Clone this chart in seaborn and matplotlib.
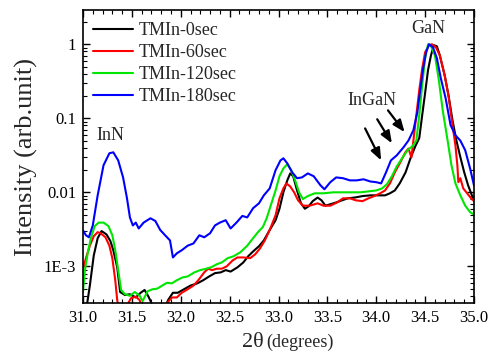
import numpy as np
import pandas as pd
import matplotlib
matplotlib.use("Agg")
import matplotlib.pyplot as plt
import matplotlib.ticker as mticker
import seaborn as sns

# ---------------- data ----------------
labels = ["TMIn-0sec", "TMIn-60sec", "TMIn-120sec", "TMIn-180sec"]
colors = ["#000000", "#ff0000", "#00e600", "#0000ff"]

x_0sec = [31.02, 31.07, 31.11, 31.15, 31.19, 31.24, 31.28, 31.31, 31.35, 31.38, 31.43, 31.48,
          31.54, 31.59, 31.63, 31.67, 31.71, 31.77, 31.83, 31.87, 31.92, 31.97, 32.02, 32.10,
          32.17, 32.23, 32.29, 32.35, 32.41, 32.46, 32.51, 32.58, 32.64, 32.69, 32.74, 32.80,
          32.85, 32.91, 32.97, 33.01, 33.05, 33.09, 33.12, 33.15, 33.19, 33.23, 33.27, 33.31,
          33.35, 33.40, 33.44, 33.48, 33.53, 33.59, 33.65, 33.71, 33.78, 33.86, 33.94, 34.02,
          34.09, 34.14, 34.19, 34.24, 34.30, 34.35, 34.40, 34.44, 34.47, 34.50, 34.53, 34.56,
          34.59, 34.62, 34.65, 34.70, 34.74, 34.78, 34.82, 34.86, 34.90, 34.94, 34.99]
y_0sec = [0.0002, 0.00055, 0.0014, 0.0024, 0.0030, 0.0027, 0.0022, 0.00165, 0.00097, 0.00045,
          0.00041, 0.00042, 0.00038, 0.00044, 0.00048, 0.00039, 0.0003, 0.00022, 0.00026, 0.00035,
          0.00044, 0.00044, 0.00048, 0.00055, 0.00059, 0.00065, 0.00073, 0.00081, 0.00083, 0.00089,
          0.00085, 0.00097, 0.00113, 0.00137, 0.00159, 0.00187, 0.00224, 0.0031, 0.0042, 0.0060,
          0.0100, 0.0145, 0.0180, 0.0165, 0.0106, 0.0071, 0.0060, 0.0065, 0.0076, 0.0085,
          0.0078, 0.0066, 0.0069, 0.0073, 0.0078, 0.0083, 0.0085, 0.0089, 0.0091, 0.0091,
          0.0091, 0.0097, 0.0106, 0.0132, 0.0186, 0.0288, 0.042, 0.054, 0.11, 0.22, 0.45, 0.71,
          0.97, 0.94, 0.71, 0.38, 0.20, 0.094, 0.050, 0.030, 0.0186, 0.0124, 0.0083]

x_60sec = [31.00, 31.03, 31.07, 31.11, 31.15, 31.18, 31.23, 31.27, 31.30, 31.33, 31.35, 31.38,
           31.44, 31.49, 31.54, 31.58, 31.62, 31.81, 31.86, 31.91, 31.96, 32.01, 32.06, 32.13,
           32.18, 32.24, 32.28, 32.32, 32.37, 32.42, 32.47, 32.53, 32.58, 32.64, 32.71, 32.76,
           32.81, 32.86, 32.91, 32.97, 33.01, 33.05, 33.08, 33.12, 33.16, 33.20, 33.25, 33.32,
           33.40, 33.46, 33.53, 33.60, 33.66, 33.73, 33.79, 33.86, 33.92, 33.98, 34.04, 34.09,
           34.14, 34.19, 34.24, 34.30, 34.33, 34.36, 34.38, 34.41, 34.44, 34.47, 34.50, 34.54,
           34.57, 34.61, 34.65, 34.70, 34.74, 34.78, 34.81, 34.83, 34.84, 34.86, 34.89, 34.93,
           34.97, 35.00]
y_60sec = [0.00093, 0.00129, 0.0019, 0.00255, 0.0029, 0.0028, 0.00247, 0.0019, 0.00129, 0.00065,
           0.00035, 0.00022, 0.00028, 0.00037, 0.00039, 0.00035, 0.00022, 0.0002, 0.00032, 0.00038,
           0.00038, 0.00044, 0.00048, 0.00055, 0.00065, 0.00083, 0.00093, 0.00089, 0.00093, 0.00093,
           0.0010, 0.0012, 0.00132, 0.00132, 0.00129, 0.00145, 0.00174, 0.00224, 0.0031, 0.0049,
           0.0083, 0.0113, 0.0132, 0.0120, 0.0100, 0.0078, 0.0066, 0.0066, 0.0071, 0.0066,
           0.0066, 0.0073, 0.0083, 0.0083, 0.0078, 0.0076, 0.0083, 0.0089, 0.0097, 0.0106,
           0.0132, 0.0186, 0.0246, 0.035, 0.039, 0.0296, 0.050, 0.11, 0.24, 0.47, 0.78, 0.97,
           1.0, 0.91, 0.71, 0.38, 0.20, 0.081, 0.043, 0.023, 0.0137, 0.0155, 0.0113, 0.0097,
           0.0083, 0.0076]

x_120sec = [31.00, 31.02, 31.05, 31.08, 31.12, 31.16, 31.21, 31.26, 31.30, 31.33, 31.36, 31.39,
            31.43, 31.48, 31.53, 31.58, 31.61, 31.66, 31.71, 31.76, 31.81, 31.86, 31.91, 31.96,
            32.02, 32.07, 32.14, 32.20, 32.26, 32.31, 32.37, 32.42, 32.48, 32.54, 32.61, 32.68,
            32.74, 32.79, 32.84, 32.88, 32.92, 32.97, 33.01, 33.05, 33.09, 33.13, 33.17, 33.21,
            33.25, 33.30, 33.37, 33.46, 33.56, 33.66, 33.75, 33.84, 33.92, 34.00, 34.06, 34.11,
            34.16, 34.21, 34.27, 34.32, 34.37, 34.41, 34.44, 34.47, 34.50, 34.53, 34.56, 34.60,
            34.64, 34.68, 34.73, 34.77, 34.81, 34.86, 34.91, 34.96, 35.00]
y_120sec = [0.00045, 0.00089, 0.00155, 0.0024, 0.0035, 0.0039, 0.0039, 0.0035, 0.00263, 0.00165,
            0.00089, 0.00048, 0.00042, 0.0004, 0.00045, 0.0004, 0.00034, 0.00046, 0.00049, 0.0005,
            0.00055, 0.0006, 0.00059, 0.00065, 0.00071, 0.00073, 0.00083, 0.00089, 0.00093, 0.00097,
            0.00107, 0.00113, 0.00129, 0.00137, 0.00155, 0.0019, 0.0024, 0.0029, 0.0034, 0.0045,
            0.0066, 0.0106, 0.0165, 0.021, 0.024, 0.0199, 0.0145, 0.0100, 0.0081, 0.0089,
            0.0097, 0.0097, 0.0100, 0.0100, 0.0100, 0.0100, 0.0103, 0.0106, 0.0113, 0.0129,
            0.0165, 0.0224, 0.0296, 0.037, 0.042, 0.050, 0.11, 0.28, 0.65, 1.0, 0.94, 0.71,
            0.33, 0.128, 0.050, 0.023, 0.0132, 0.0091, 0.0066, 0.0054, 0.0050]

x_180sec = [31.00, 31.03, 31.06, 31.10, 31.15, 31.21, 31.27, 31.31, 31.36, 31.41, 31.45, 31.48,
            31.51, 31.54, 31.57, 31.62, 31.69, 31.74, 31.79, 31.84, 31.89, 31.92, 31.96, 32.01,
            32.07, 32.13, 32.19, 32.24, 32.30, 32.35, 32.40, 32.46, 32.51, 32.57, 32.63, 32.68,
            32.74, 32.80, 32.85, 32.91, 32.97, 33.02, 33.05, 33.09, 33.14, 33.19, 33.24, 33.30,
            33.36, 33.43, 33.47, 33.53, 33.59, 33.66, 33.73, 33.80, 33.87, 33.94, 34.00, 34.05,
            34.10, 34.15, 34.21, 34.28, 34.33, 34.38, 34.42, 34.45, 34.48, 34.51, 34.54, 34.58,
            34.62, 34.66, 34.71, 34.76, 34.81, 34.86, 34.91, 34.96, 35.00]
y_180sec = [0.00306, 0.00263, 0.00247, 0.00357, 0.0091, 0.0232, 0.0337, 0.0347, 0.027, 0.0159,
            0.0083, 0.00458, 0.00357, 0.0039, 0.00325, 0.0039, 0.00446, 0.0041, 0.0031, 0.00263,
            0.00224, 0.00132, 0.0015, 0.00165, 0.0019, 0.00204, 0.00263, 0.00247, 0.0028, 0.00357,
            0.0039, 0.0042, 0.00325, 0.0039, 0.0048, 0.00458, 0.0061, 0.0071, 0.0091, 0.0113,
            0.0199, 0.027, 0.0288, 0.0246, 0.0186, 0.0155, 0.0159, 0.0180, 0.0165, 0.0124,
            0.0110, 0.0137, 0.0159, 0.0155, 0.0145, 0.0145, 0.0150, 0.0140, 0.0137, 0.0132,
            0.0186, 0.027, 0.0316, 0.0407, 0.0502, 0.069, 0.12, 0.24, 0.47, 0.78, 1.0, 0.91,
            0.65, 0.35, 0.186, 0.081, 0.059, 0.050, 0.037, 0.021, 0.0124]

xs = [x_0sec, x_60sec, x_120sec, x_180sec]
ys = [y_0sec, y_60sec, y_120sec, y_180sec]

x_ticks = [31.0, 31.5, 32.0, 32.5, 33.0, 33.5, 34.0, 34.5, 35.0]
y_ticks = [1e-3, 1e-2, 1e-1, 1]
y_tick_labels = ["1E-3", "0.01", "0.1", "1"]

# ---------------- frame ----------------
frames = []
for lab, x, y in zip(labels, xs, ys):
    frames.append(pd.DataFrame({"angle": x, "intensity": y, "sample": lab}))
df = pd.concat(frames, ignore_index=True)

sns.set_style("ticks")
plt.rcParams["font.family"] = ["Liberation Serif", "DejaVu Serif"]

fig = plt.figure(figsize=(4.95, 3.54), dpi=100)
ax = fig.add_axes([83 / 495, 1 - 303 / 354, (474 - 83) / 495, (303 - 10) / 354])

sns.lineplot(data=df, x="angle", y="intensity", hue="sample", hue_order=labels,
             palette=colors, estimator=None, sort=False, units="sample",
             linewidth=1.5, ax=ax)

ax.set_yscale("log")
ax.set_xlim(31.0, 35.0)
ax.set_ylim(3.2e-4, 2.9)
ax.set_xticks(x_ticks)
ax.set_xticklabels([f"{t:.1f}" for t in x_ticks])
ax.xaxis.set_minor_locator(mticker.MultipleLocator(0.1))
ax.set_yticks(y_ticks)
ax.set_yticklabels(y_tick_labels)
ax.yaxis.set_minor_locator(mticker.LogLocator(base=10, subs=np.arange(2, 10) * 1.0, numticks=20))
ax.yaxis.set_minor_formatter(mticker.NullFormatter())

ax.tick_params(which="both", direction="in", top=True, right=True, colors="black")
ax.tick_params(which="major", length=5, width=1.0, labelsize=12, pad=5)
ax.tick_params(which="minor", length=3, width=0.8)
for s in ax.spines.values():
    s.set_linewidth(1.2)
    s.set_color("black")

ax.set_xlabel("")
ax.set_ylabel("Intensity (arb.unit)", fontsize=19, labelpad=4)

fig.text(264 / 495, 1 - 347 / 354, "2θ", fontsize=16, ha="right", va="baseline")
fig.text(266 / 495, 1 - 347 / 354, "(degrees)", fontsize=13, ha="left", va="baseline")

sns.move_legend(ax, "upper left", bbox_to_anchor=(0.026, 0.958), title=None,
                frameon=False, fontsize=13, handlelength=2.2, handletextpad=0.3,
                labelspacing=0.28, borderpad=0, borderaxespad=0)

ax.text(31.28, 0.059, "InN", fontsize=13, ha="center", va="center")
ax.text(34.53, 1.64, "GaN", fontsize=13, ha="center", va="center")
ax.text(33.96, 0.175, "InGaN", fontsize=13, ha="center", va="center")

arrow_starts = [(33.886, 0.073), (34.01, 0.097), (34.12, 0.128)]
arrow_tips = [(34.05, 0.027), (34.16, 0.046), (34.29, 0.065)]
for st, tp in zip(arrow_starts, arrow_tips):
    ax.annotate("", xy=tp, xytext=st,
                arrowprops=dict(arrowstyle="-|>,head_length=0.55,head_width=0.22",
                                color="black", lw=1.6,
                                mutation_scale=13, shrinkA=0, shrinkB=0))

fig.savefig("out.png", dpi=100)
